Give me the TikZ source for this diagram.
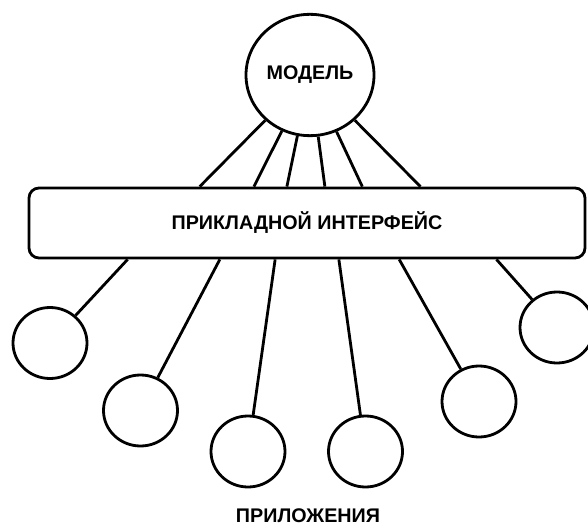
\documentclass[tikz,border=0pt]{standalone}
\usepackage{fontspec}
\setmainfont{Liberation Sans}
\usetikzlibrary{shapes.geometric,calc}
\begin{document}
\begin{tikzpicture}[x=0.75pt, y=-0.75pt, line width=2.1pt,
  every node/.style={font=\fontsize{14.8}{17}\selectfont\bfseries},
  app/.style={draw, ellipse, inner sep=0pt, minimum width=55.5pt, minimum height=53.25pt}]
\useasboundingbox (0,0) rectangle (588,527);
\node[draw, ellipse, inner sep=0pt, minimum width=96pt, minimum height=91pt] (model) at (310,75) {МОДЕЛЬ};
\node[draw, rectangle, rounded corners=7.5pt, minimum width=417pt, minimum height=52.5pt] (api) at (307,223) {ПРИКЛАДНОЙ ИНТЕРФЕЙС};

\node[app] (app1) at (50,343) {};
\node[app] (app2) at (140.5,410.5) {};
\node[app] (app3) at (248,451.5) {};
\node[app] (app4) at (365.5,451.5) {};
\node[app] (app5) at (479,401.5) {};
\node[app] (app6) at (557,327.5) {};
\node (apps) at (308,516) {ПРИЛОЖЕНИЯ};

\foreach \f in {0.308,0.405,0.464,0.532,0.599,0.703}
  \draw (model) -- ($(api.north west)!\f!(api.north east)$);
\foreach \f/\a in {0.179/app1,0.344/app2,0.443/app3,0.557/app4,0.665/app5,0.839/app6}
  \draw ($(api.south west)!\f!(api.south east)$) -- (\a);
\end{tikzpicture}
\end{document}
